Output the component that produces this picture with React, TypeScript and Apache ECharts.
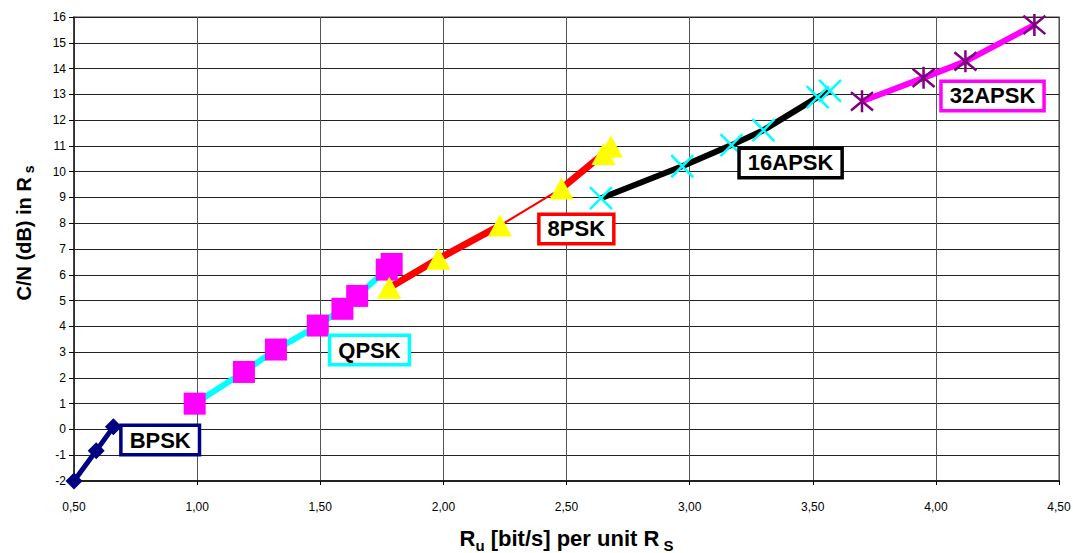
import React, { useEffect, useRef } from "react";
import * as echarts from "echarts";

const bpsk: [number, number][] = [[0.5, -2.0], [0.59, -0.83], [0.66, 0.1]];
const qpsk: [number, number][] = [[0.99, 1.0], [1.19, 2.23], [1.32, 3.1], [1.49, 4.03], [1.59, 4.68], [1.65, 5.18], [1.77, 6.2], [1.79, 6.42]];
const psk8: [number, number][] = [[1.78, 5.5], [1.98, 6.62], [2.23, 7.91], [2.48, 9.35], [2.65, 10.69], [2.68, 10.98]];
const apsk16: [number, number][] = [[2.64, 8.97], [2.97, 10.21], [3.17, 11.03], [3.3, 11.61], [3.52, 12.89], [3.57, 13.13]];
const apsk32: [number, number][] = [[3.7, 12.73], [3.95, 13.64], [4.12, 14.28], [4.4, 15.69]];

const labels = [
  { name: "BPSK", coord: [0.85, -0.41], color: "#000080" },
  { name: "QPSK", coord: [1.7, 3.08], color: "#00FFFF" },
  { name: "8PSK", coord: [2.54, 7.78], color: "#FF0000" },
  { name: "16APSK", coord: [3.41, 10.34], color: "#000000" },
  { name: "32APSK", coord: [4.23, 12.94], color: "#FF00FF" },
];

const X_PATH = "path://M0,0L10,10M10,0L0,10";
const AST_PATH = "path://M0,0L10,10M10,0L0,10M5,-1L5,11";
const SANS = "Liberation Sans, Arial, sans-serif";

const boxLabel = (l: typeof labels[number]) => ({
  coord: l.coord,
  symbol: "rect",
  symbolSize: 0,
  label: {
    show: true,
    position: "inside",
    formatter: l.name,
    fontFamily: SANS,
    fontWeight: "bold",
    fontSize: 22,
    lineHeight: 24,
    color: "#000",
    backgroundColor: "#fff",
    borderColor: l.color,
    borderWidth: 3.5,
    padding: [2, 7, 0, 7],
  },
});

export default function App() {
  const ref = useRef<HTMLDivElement>(null);
  useEffect(() => {
    if (!ref.current) return;
    const chart = echarts.init(ref.current, null, { renderer: "svg" });
    const base = { type: "line", z: 3 };
    const psk8Thick: any[] = [psk8[0], psk8[1], psk8[2], [null, null], psk8[3], psk8[4], psk8[5]];
    const titleRich = (main: number, sub: number, drop: number) => ({
      a: { fontFamily: SANS, fontWeight: "bold", fontSize: main, color: "#000", verticalAlign: "bottom", lineHeight: main + 2 },
      s: { fontFamily: SANS, fontWeight: "bold", fontSize: sub, color: "#000", verticalAlign: "bottom", lineHeight: sub + 2, padding: [0, 0, drop, 0] },
    });
    chart.setOption({
      animation: false,
      backgroundColor: "#fff",
      grid: { left: 74, right: 14, top: 17, bottom: 72, show: true, borderColor: "#808080", borderWidth: 1.5, outerBoundsMode: "none", containLabel: false },
      xAxis: {
        type: "value",
        min: 0.5,
        max: 4.5,
        interval: 0.5,
        name: "{a|R}{s|u}{a| [bit/s] per unit R}{s| S}",
        nameLocation: "middle",
        nameGap: 44,
        nameTextStyle: { rich: titleRich(22, 15, -4) },
        axisLine: { onZero: false, lineStyle: { color: "#222", width: 2 } },
        axisTick: { show: true, inside: false, length: 4, lineStyle: { color: "#000" } },
        axisLabel: {
          formatter: (v: number) => v.toFixed(2).replace(".", ","),
          fontFamily: SANS,
          fontSize: 12,
          color: "#000",
          margin: 20,
        },
        splitLine: { show: true, lineStyle: { color: "#555", width: 1 } },
      },
      yAxis: {
        type: "value",
        min: -2,
        max: 16,
        interval: 1,
        name: "{a|C/N (dB) in R}{s| s}",
        nameLocation: "middle",
        nameGap: 40,
        nameTextStyle: { rich: titleRich(20, 14, -2), padding: [0, 0, 0, 32] },
        axisLine: { show: true, onZero: false, lineStyle: { color: "#222", width: 1.5 } },
        axisTick: { show: true, inside: false, length: 5, lineStyle: { color: "#000" } },
        axisLabel: { fontFamily: SANS, fontSize: 12, color: "#000", margin: 8 },
        splitLine: { show: true, lineStyle: { color: "#222", width: 1 } },
      },
      series: [
        {
          ...base,
          name: "BPSK",
          data: bpsk,
          symbol: "diamond",
          symbolSize: 17,
          lineStyle: { color: "#000080", width: 5 },
          itemStyle: { color: "#000080" },
          markPoint: { data: [boxLabel(labels[0])], z: 10 },
        },
        {
          ...base,
          name: "QPSK",
          data: qpsk,
          symbol: "rect",
          symbolSize: 22,
          lineStyle: { color: "#00FFFF", width: 6 },
          itemStyle: { color: "#FF00FF" },
          markPoint: { data: [boxLabel(labels[1])], z: 10 },
        },
        {
          ...base,
          name: "8PSK thin",
          data: [psk8[2], psk8[3]],
          showSymbol: false,
          symbol: "none",
          lineStyle: { color: "#FF0000", width: 2 },
        },
        {
          ...base,
          name: "8PSK",
          data: psk8Thick,
          connectNulls: false,
          symbol: "triangle",
          symbolSize: [24, 22],
          lineStyle: { color: "#FF0000", width: 7 },
          itemStyle: { color: "#FFFF00" },
          markPoint: { data: [boxLabel(labels[2])], z: 10 },
        },
        {
          ...base,
          name: "16APSK",
          data: apsk16,
          symbol: X_PATH,
          symbolSize: 22,
          lineStyle: { color: "#000000", width: 6 },
          itemStyle: { color: "#00FFFF", borderColor: "#00FFFF", borderWidth: 2.5 },
          markPoint: { data: [boxLabel(labels[3])], z: 10 },
        },
        {
          ...base,
          name: "32APSK",
          data: apsk32,
          symbol: AST_PATH,
          symbolSize: 22,
          lineStyle: { color: "#FF00FF", width: 6 },
          itemStyle: { color: "#800080", borderColor: "#800080", borderWidth: 2.5 },
          markPoint: { data: [boxLabel(labels[4])], z: 10 },
        },
      ],
    });
    return () => chart.dispose();
  }, []);
  return <div ref={ref} style={{ width: 1073, height: 553, position: "absolute", left: 0, top: 0 }} />;
}
